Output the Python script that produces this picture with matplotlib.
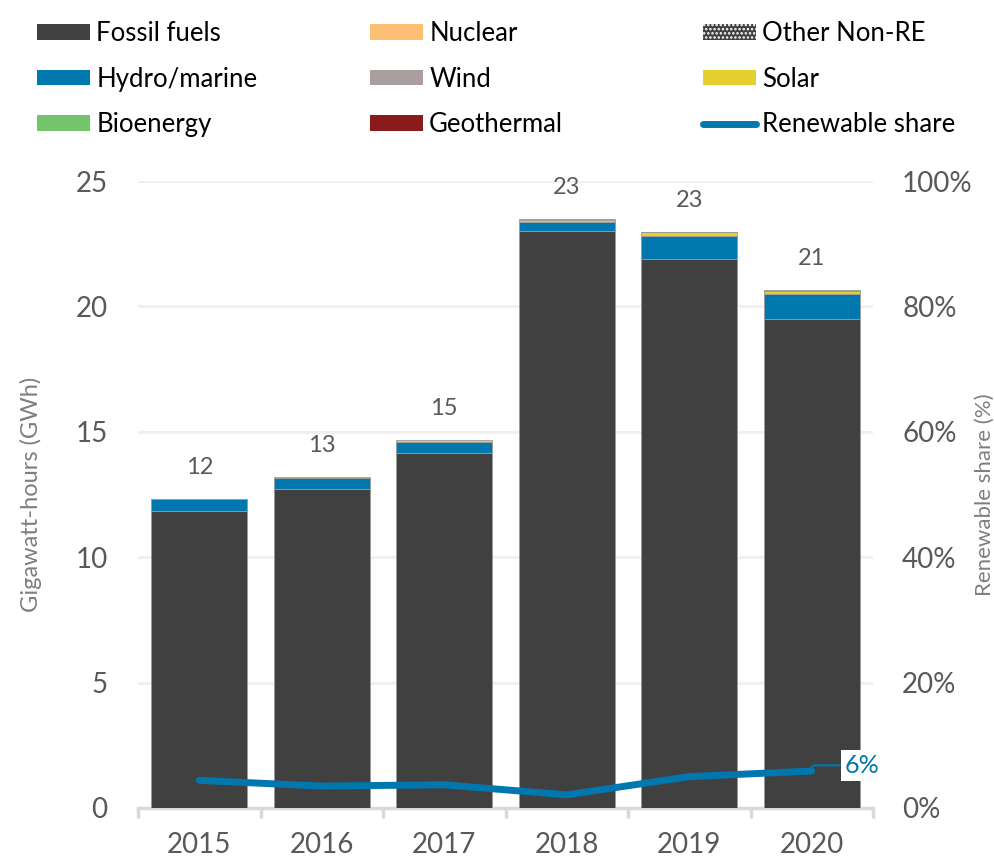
import numpy as np
import matplotlib
matplotlib.use("Agg")
import matplotlib.pyplot as plt
from matplotlib.patches import Patch
from matplotlib.lines import Line2D

plt.rcParams['font.family'] = ['Lato', 'DejaVu Sans']
plt.rcParams['hatch.color'] = 'white'
plt.rcParams['hatch.linewidth'] = 1.2

# %% Data (GWh)
years = ['2015', '2016', '2017', '2018', '2019', '2020']
fossil = [11.84, 12.72, 14.15, 23.00, 21.89, 19.50]
nuclear = [0, 0, 0, 0, 0, 0]
other_nonre = [0, 0, 0, 0, 0, 0]
hydro = [0.48, 0.44, 0.45, 0.36, 0.91, 1.00]
wind = [0, 0, 0, 0, 0, 0]
solar = [0.01, 0.05, 0.07, 0.10, 0.15, 0.12]
bioenergy = [0, 0, 0, 0.02, 0.02, 0.05]
geothermal = [0, 0, 0, 0, 0, 0]
totals_label = ['12', '13', '15', '23', '23', '21']
renewable_share = [4.4, 3.5, 3.7, 2.1, 5.0, 5.9]  # %

series = [
    ('Fossil fuels', fossil, '#404040', None),
    ('Nuclear', nuclear, '#FDBF74', None),
    ('Other Non-RE', other_nonre, '#404040', '....'),
    ('Hydro/marine', hydro, '#0077AE', None),
    ('Wind', wind, '#AA9E9E', None),
    ('Solar', solar, '#E3CF30', None),
    ('Bioenergy', bioenergy, '#74C46B', None),
    ('Geothermal', geothermal, '#8B1A1A', None),
]

gray_txt = '#595959'
line_col = '#0077AE'

fig = plt.figure(figsize=(9.94, 8.56), dpi=100)
ax = fig.add_axes([138 / 994, 48 / 856, 735 / 994, 627 / 856])
ax2 = ax.twinx()
ax.set_zorder(ax2.get_zorder() - 1)
ax2.patch.set_visible(False)
ax.patch.set_visible(False)

x = np.arange(len(years))
bottom = np.zeros(len(years))
handles = {}
for name, vals, col, hatch in series:
    vals = np.array(vals, dtype=float)
    bars = ax.bar(x, vals, 0.78, bottom=bottom, color=col, edgecolor='#9a9a9a',
                  linewidth=0.6, hatch=hatch, zorder=3)
    for b, v in zip(bars, vals):
        if v == 0:
            b.set_linewidth(0)
    bottom += vals
    handles[name] = Patch(facecolor=col, hatch=hatch, edgecolor='white' if hatch else col, linewidth=0)

for xi, tot, lab in zip(x, bottom, totals_label):
    ax.annotate(lab, (xi, tot), xytext=(0, 15), textcoords='offset points',
                ha='center', va='bottom', fontsize=17, color=gray_txt,
                annotation_clip=False)

ax.set_xlim(-0.5, len(years) - 0.5)
ax.set_ylim(0, 25)
ax.set_yticks([0, 5, 10, 15, 20, 25])
ax.grid(axis='y', color='#f0f0f0', linewidth=2.2, zorder=0)
ax.set_axisbelow(True)
for s in ['top', 'right', 'left']:
    ax.spines[s].set_visible(False)
ax.spines['bottom'].set_color('#d9d9d9')
ax.spines['bottom'].set_linewidth(2.5)
ax.set_xticks(x)
ax.set_xticklabels(years)
ax.set_xticks(np.arange(-0.5, len(years)), minor=True)
ax.tick_params(axis='x', which='major', length=0, pad=17, labelsize=20, labelcolor=gray_txt)
ax.tick_params(axis='x', which='minor', length=7, width=2.5, color='#d9d9d9')
ax.tick_params(axis='y', length=0, pad=22, labelsize=20, labelcolor=gray_txt)
ax.set_ylabel('Gigawatt-hours (GWh)', fontsize=17, color='#7f7f7f')
ax.yaxis.set_label_coords(-0.13, 0.5)

# renewable share line
ax2.plot(x, renewable_share, color=line_col, linewidth=5, solid_capstyle='round',
         solid_joinstyle='round', zorder=5)
ax2.set_ylim(0, 100)
ax2.set_yticks([0, 20, 40, 60, 80, 100])
ax2.set_yticklabels([f'{v}%' for v in [0, 20, 40, 60, 80, 100]])
ax2.tick_params(axis='y', length=0, pad=21, labelsize=20, labelcolor=gray_txt)
for s in ['top', 'right', 'left', 'bottom']:
    ax2.spines[s].set_visible(False)
ax2.set_ylabel('Renewable share (%)', fontsize=16, color='#7f7f7f', rotation=90, va='center')
ax2.yaxis.set_label_coords(1.152, 0.5)

# end label
ax2.annotate(f'{renewable_share[-1]:.0f}%', (x[-1], renewable_share[-1]),
             xytext=(x[-1] + 0.27, renewable_share[-1] + 0.9), textcoords='data',
             ha='left', va='center', fontsize=18, color=line_col,
             bbox=dict(boxstyle='square,pad=0.15', fc='white', ec='none'),
             arrowprops=dict(arrowstyle='-', color=line_col, lw=1.5,
                             connectionstyle='angle,angleA=0,angleB=90,rad=3',
                             shrinkA=0, shrinkB=0),
             annotation_clip=False, zorder=6)

# legend: three columns placed manually
legend_cols = [
    ['Fossil fuels', 'Hydro/marine', 'Bioenergy'],
    ['Nuclear', 'Wind', 'Geothermal'],
    ['Other Non-RE', 'Solar', 'Renewable share'],
]
handles['Renewable share'] = Line2D([], [], color=line_col, linewidth=5, solid_capstyle='round')
col_x = [40, 373, 706]
for cx, names in zip(col_x, legend_cols):
    fig.legend([handles[n] for n in names], names, loc='upper left',
               bbox_to_anchor=((cx - 8) / 994, 1 - 16 / 856), frameon=False,
               fontsize=18.5, handlelength=2.05, handleheight=0.55, handletextpad=0.25,
               labelspacing=0.8, borderpad=0.2, borderaxespad=0)

fig.savefig('out.png', dpi=100)
